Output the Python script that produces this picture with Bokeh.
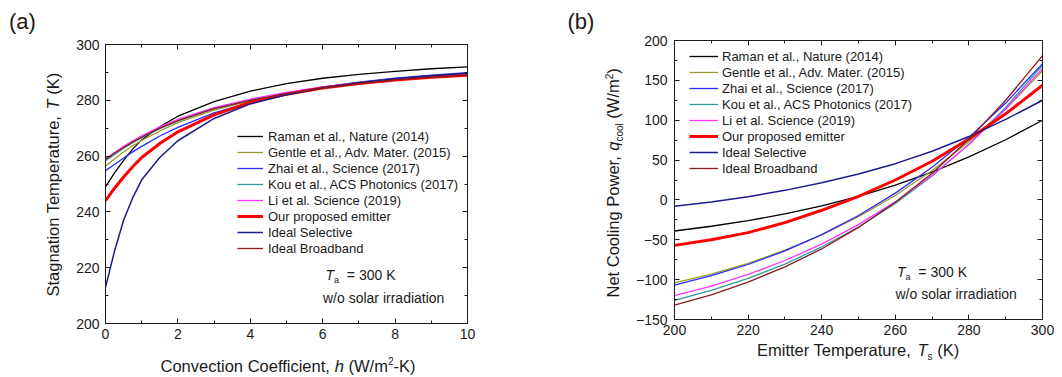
import math
from bokeh.plotting import figure
from bokeh.models import (Range1d, LinearAxis, SingleIntervalTicker, Label,
                          Legend, LegendItem, CustomJSTickFormatter)
from bokeh.layouts import row, column
from bokeh.embed import file_html
from bokeh.resources import INLINE

FONT = "Liberation Sans"
INK = "#1a1a1a"

# ---------------- data ----------------
series_labels = ["Raman et al., Nature (2014)", "Gentle et al., Adv. Mater. (2015)",
                 "Zhai et al., Science (2017)", "Kou et al., ACS Photonics (2017)",
                 "Li et al. Science (2019)", "Our proposed emitter",
                 "Ideal Selective", "Ideal Broadband"]
series_colors = ["#000000", "#9a9a2e", "#2a2aff", "#2e9a9a", "#ff33ff", "#ff0000",
                 "#1c1c8c", "#8b1c1c"]
series_widths = [1.3, 1.3, 1.3, 1.3, 1.3, 3.0, 1.5, 1.3]

# panel (a): stagnation temperature vs convection coefficient
h_coef = [0, 0.25, 0.5, 0.75, 1, 1.5, 2, 3, 4, 5, 6, 7, 8, 9, 10]
T_raman = [249, 254, 258.5, 262.5, 265.8, 270.5, 274.3, 279.5, 283.3, 286, 287.9, 289.3, 290.4, 291.3, 292]
T_gentle = [256.5, 259, 261.5, 263.7, 265.6, 269, 272, 276.5, 279.8, 282.5, 284.6, 286.3, 287.6, 288.7, 289.5]
T_zhai = [254.8, 257, 259.3, 261.5, 263.5, 267.2, 270.3, 275.5, 279.3, 282.3, 284.7, 286.5, 287.9, 289, 289.9]
T_kou = [258.3, 260.6, 262.8, 264.8, 266.6, 269.8, 272.6, 277, 280.1, 282.6, 284.6, 286.2, 287.5, 288.5, 289.3]
T_li = [259, 261.3, 263.5, 265.5, 267.3, 270.5, 273.2, 277.4, 280.4, 282.8, 284.8, 286.3, 287.6, 288.6, 289.4]
T_ours = [244, 248.5, 252.5, 256.2, 259.5, 264.5, 268.7, 274.8, 279.2, 282.2, 284.4, 286, 287.3, 288.3, 289]
T_sel = [213, 226, 237, 245, 251.5, 259.5, 265.5, 273.5, 278.7, 282, 284.5, 286.3, 287.7, 288.8, 289.7]
T_broad = [258.8, 261, 263.1, 265, 266.8, 270, 272.7, 277, 280, 282.4, 284.4, 286, 287.3, 288.3, 289.1]

# panel (b): net cooling power vs emitter temperature
Ts = [200, 210, 220, 230, 240, 250, 260, 270, 280, 290, 300]
q_raman = [-39, -33, -26, -17.5, -7.5, 4.5, 18.5, 35, 54, 75.5, 100]
q_gentle = [-104, -93, -79.5, -63, -44, -21, 5.5, 37, 73, 114, 162]
q_zhai = [-107, -95, -81, -64, -43.5, -19.5, 8.5, 41, 78.5, 121.5, 171]
q_kou = [-126, -113.5, -98.5, -80.5, -59, -34, -4.5, 30, 70, 116, 169]
q_li = [-120, -108, -93.5, -76, -55.5, -31, -2.5, 31, 69.5, 114, 165]
q_ours = [-57, -50, -41, -28.5, -13, 4.5, 25, 48.5, 76.5, 108, 144]
q_sel = [-8, -2.5, 4, 12, 21.5, 32.5, 45.5, 61, 79.5, 101, 125]
q_broad = [-132, -119, -103, -84, -61.5, -34.5, -3, 33.5, 76, 125, 181]

T_series = [T_raman, T_gentle, T_zhai, T_kou, T_li, T_ours, T_sel, T_broad]
q_series = [q_raman, q_gentle, q_zhai, q_kou, q_li, q_ours, q_sel, q_broad]

# ---------------- text metrics (Arial / Liberation Sans advance widths) -------------
AW = {' ': 278, '(': 333, ')': 333, ',': 278, '-': 333, '.': 278, '/': 278, '=': 584}
for d in "0123456789":
    AW[d] = 556
AW.update(dict(A=667, B=667, C=722, D=722, E=667, F=611, G=778, H=722, I=278, J=500,
               K=667, L=556, M=833, N=722, O=778, P=667, Q=778, R=722, S=667, T=611,
               U=722, V=667, W=944, X=667, Y=667, Z=611))
AW.update(dict(a=556, b=556, c=500, d=556, e=556, f=278, g=556, h=556, i=222, j=222,
               k=500, l=222, m=833, n=556, o=556, p=556, q=556, r=333, s=500, t=278,
               u=556, v=500, w=722, x=500, y=500, z=500))
BASE_CORR = 0.28   # empirical baseline correction (fraction of font size)


def tw(s, size):
    return sum(AW.get(c, 556) for c in s) * size / 1000.0


def rich(p, anchor, ref_px, px, py, segs, angle=0.0):
    """segs: (text, italic, size, shift). px,py: page coords of the baseline start.
    anchor: data point whose page position is ref_px."""
    ax, ay = anchor
    fx, fy = ref_px
    cur = 0.0
    for text, italic, size, shift in segs:
        lead = len(text) - len(text.lstrip(" "))
        cur += tw(" " * lead, size)
        body = text.strip(" ")
        trail = len(text) - lead - len(body)
        up = shift + BASE_CORR * size
        if angle == 0:
            xo = px - fx + cur
            yo = fy - py + up
        else:
            xo = px - fx - up
            yo = fy - py + cur
        p.add_layout(Label(x=ax, y=ay, x_offset=xo, y_offset=yo, text=body, angle=angle,
                           text_font=FONT, text_font_size=f"{size}px",
                           text_font_style="italic" if italic else "normal",
                           text_baseline="alphabetic", text_align="left",
                           text_color=INK))
        cur += tw(body, size) + tw(" " * trail, size)


def style_axis(ax, show, standoff=5):
    ax.axis_line_color = INK
    ax.axis_line_width = 1
    ax.major_tick_in = 5
    ax.major_tick_out = 0
    ax.minor_tick_in = 3
    ax.minor_tick_out = 0
    ax.major_tick_line_color = INK
    ax.minor_tick_line_color = INK
    ax.major_label_text_font = FONT
    ax.major_label_text_font_size = "14px"
    ax.major_label_text_color = INK
    ax.major_label_standoff = standoff
    if not show:
        ax.formatter = CustomJSTickFormatter(code="return ''")
        ax.major_label_standoff = 0


def make_fig(xr, yr, xint, yint, w, hgt, bl, br, bt, bb, xso, yso):
    p = figure(width=w, height=hgt, x_range=Range1d(*xr), y_range=Range1d(*yr),
               output_backend="svg", toolbar_location=None, title_location=None,
               min_border_left=bl, min_border_right=br, min_border_top=bt,
               min_border_bottom=bb)
    p.frame_align = False
    p.xgrid.visible = False
    p.ygrid.visible = False
    p.outline_line_color = None
    p.background_fill_color = "white"
    p.border_fill_color = "white"
    p.xaxis.ticker = SingleIntervalTicker(interval=xint, num_minor_ticks=2)
    p.yaxis.ticker = SingleIntervalTicker(interval=yint, num_minor_ticks=2)
    for a in p.xaxis:
        style_axis(a, True, xso)
    for a in p.yaxis:
        style_axis(a, True, yso)
    top = LinearAxis(ticker=SingleIntervalTicker(interval=xint, num_minor_ticks=2))
    style_axis(top, False)
    p.add_layout(top, "above")
    rgt = LinearAxis(ticker=SingleIntervalTicker(interval=yint, num_minor_ticks=2))
    style_axis(rgt, False)
    p.add_layout(rgt, "right")
    return p


def text_fig(w, hgt):
    p = figure(width=w, height=hgt, x_range=Range1d(0, w), y_range=Range1d(0, hgt),
               output_backend="svg", toolbar_location=None, title_location=None,
               x_axis_location=None, y_axis_location=None,
               min_border_left=0, min_border_right=0, min_border_top=0, min_border_bottom=0)
    p.frame_align = False
    p.outline_line_color = None
    p.xgrid.visible = False
    p.ygrid.visible = False
    p.background_fill_color = "white"
    p.border_fill_color = "white"
    return p


def add_legend(p, renderers, loc, gw, standoff):
    items = [LegendItem(label=lab, renderers=[r]) for lab, r in zip(series_labels, renderers)]
    leg = Legend(items=items, location=loc, padding=0, margin=0, spacing=0,
                 glyph_width=gw, glyph_height=16, label_height=16,
                 label_standoff=standoff, label_text_font=FONT,
                 label_text_font_size="13px", label_text_color=INK,
                 border_line_color=None, background_fill_alpha=0)
    p.add_layout(leg)


# ================= panel (a) =================
# page layout: ylab_a x0..62, main_a x62..530 (y 0..345), xlab_a y345..377
pa = make_fig((0, 10), (200, 300), 2, 20, 468, 345, 43, 63, 44, 22, 5, 6)
ra = []
for ys, c, lw in zip(T_series, series_colors, series_widths):
    ra.append(pa.line(h_coef, ys, line_color=c, line_width=lw))
add_legend(pa, ra, (132, 67), 26, 5)
FA = (105, 323)          # page position of data (0, 200)
rich(pa, (0, 200), FA, 325, 278, [("T", True, 14, 0), ("a", False, 9, -4), ("  = 300 K", False, 14, 0)])
rich(pa, (0, 200), FA, 322.5, 301, [("w/o solar irradiation", False, 14, 0)])

ylab_a = text_fig(62, 345)
rich(ylab_a, (0, 0), (0, 345), 8.5, 27.5, [("(a)", False, 22, 0)])
rich(ylab_a, (0, 0), (0, 345), 57, 296,
     [("Stagnation Temperature, ", False, 16.5, 0), ("T", True, 16.5, 0), (" (K)", False, 16.5, 0)],
     angle=math.pi / 2)

xlab_a = text_fig(530, 32)
rich(xlab_a, (0, 0), (0, 377), 160, 370,
     [("Convection Coefficient, ", False, 16.5, 0), ("h", True, 16.5, 0),
      (" (W/m", False, 16.5, 0), ("2", False, 10, 6.5), ("-K)", False, 16.5, 0)])

col_a = column(row(ylab_a, pa), xlab_a)

# ================= panel (b) =================
# page layout: ylab_b x530..624, main_b x624..1062 (y 0..342), xlab_b y342..377
pb = make_fig((200, 300), (-150, 200), 20, 50, 438, 342, 50, 20, 40, 23, 5, 7)
rb = []
for ys, c, lw in zip(q_series, series_colors, series_widths):
    rb.append(pb.line(Ts, ys, line_color=c, line_width=lw))
add_legend(pb, rb, (15, 143), 29, 4)
FB = (674, 319)          # page position of data (200, -150)
rich(pb, (200, -150), FB, 896.5, 275, [("T", True, 14, 0), ("a", False, 9, -4), ("  = 300 K", False, 14, 0)])
rich(pb, (200, -150), FB, 895, 297.5, [("w/o solar irradiation", False, 14, 0)])

ylab_b = text_fig(94, 342)
rich(ylab_b, (0, 0), (530, 342), 567, 27.5, [("(b)", False, 22, 0)])
rich(ylab_b, (0, 0), (530, 342), 617.5, 297,
     [("Net Cooling Power, ", False, 16.5, 0), ("q", True, 16.5, 0), ("cool", False, 10, -4),
      (" (W/m", False, 16.5, 0), ("2", False, 10, 6.5), (")", False, 16.5, 0)],
     angle=math.pi / 2)

xlab_b = text_fig(532, 35)
rich(xlab_b, (0, 0), (530, 377), 756.5, 354.5,
     [("Emitter Temperature, ", False, 16.5, 0), ("T", True, 16.5, 0),
      ("s", False, 10, -4), (" (K)", False, 16.5, 0)])

col_b = column(row(ylab_b, pb), xlab_b)

layout = row(col_a, col_b)
open("out.html", "w").write(file_html(layout, INLINE))
